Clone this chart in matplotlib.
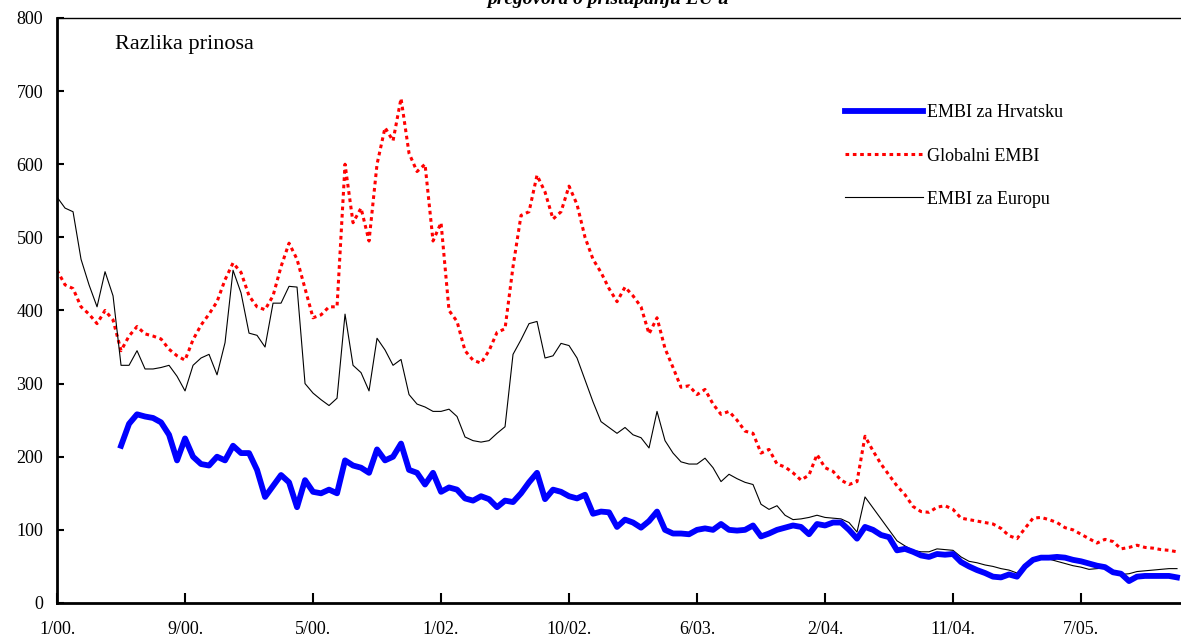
import numpy as np
import matplotlib
matplotlib.use('Agg')
from matplotlib import pyplot as plt

plt.rcParams['font.family'] = ['Liberation Serif', 'DejaVu Serif']

# samples equally spaced in time, 16 samples between labelled ticks
tick_labels = ['1/00.', '9/00.', '5/00.', '1/02.', '10/02.', '6/03.', '2/04.', '11/04.', '7/05.']

embi_europa = [555, 540, 535, 470, 435, 405, 453, 420, 325, 325, 345, 320, 320, 322, 325, 310,
               290, 325, 335, 340, 312, 356, 455, 424, 369, 366, 350, 410, 410, 433, 432, 300,
               287, 278, 270, 280, 395, 325, 315, 290, 362, 346, 325, 333, 285, 272, 268, 262,
               262, 265, 255, 227, 222, 220, 222, 232, 241, 340, 360, 382, 385, 335, 338, 355,
               352, 335, 305, 275, 248, 240, 232, 240, 230, 226, 212, 262, 222, 205, 193, 190,
               190, 198, 185, 166, 176, 170, 165, 162, 135, 128, 133, 120, 114, 115, 117, 120,
               117, 116, 115, 110, 97, 145, 130, 115, 100, 85, 78, 72, 70, 70, 74, 73,
               72, 63, 57, 55, 52, 50, 47, 45, 41, 50, 59, 63, 60, 57, 54, 51,
               49, 46, 47, 48, 42, 39, 40, 43, 44, 45, 46, 47, 47]

embi_global = [455, 435, 430, 405, 395, 382, 400, 387, 345, 365, 378, 368, 365, 361, 347, 338,
               332, 360, 380, 395, 412, 442, 465, 452, 420, 405, 401, 420, 460, 492, 470, 430,
               390, 394, 405, 405, 600, 520, 540, 495, 600, 650, 632, 690, 615, 590, 600, 495,
               520, 400, 385, 345, 332, 328, 345, 370, 375, 460, 530, 535, 585, 562, 525, 535,
               570, 545, 500, 470, 452, 430, 412, 432, 420, 405, 368, 390, 348, 322, 295, 297,
               285, 292, 272, 258, 262, 250, 235, 232, 205, 210, 190, 186, 178, 168, 175, 203,
               185, 180, 168, 162, 166, 228, 208, 190, 175, 160, 148, 132, 125, 124, 131, 133,
               128, 116, 114, 112, 110, 108, 102, 92, 88, 102, 116, 117, 114, 110, 103, 100,
               94, 88, 82, 87, 84, 74, 76, 79, 76, 75, 73, 72, 70]

embi_hrvatska = [np.nan] * 8 + [
               215, 245, 258, 255, 253, 247, 230, 195,
               225, 200, 190, 188, 200, 195, 215, 205, 205, 182, 145, 160, 175, 165, 131, 168,
               152, 150, 155, 150, 195, 188, 185, 178, 210, 195, 200, 218, 182, 178, 162, 178,
               152, 158, 155, 143, 140, 146, 142, 131, 140, 138, 150, 165, 178, 142, 155, 152,
               146, 143, 148, 122, 125, 124, 104, 114, 110, 103, 112, 125, 100, 95, 95, 94,
               100, 102, 100, 108, 100, 99, 100, 106, 91, 95, 100, 103, 106, 104, 94, 108,
               106, 110, 110, 100, 88, 104, 100, 93, 90, 72, 74, 70, 65, 63, 67, 66,
               67, 56, 50, 45, 41, 36, 35, 39, 36, 50, 59, 62, 62, 63, 62, 59,
               57, 54, 51, 49, 42, 40, 30, 36, 37, 37, 37, 37, 35]

x = np.arange(len(embi_europa))

fig = plt.figure(figsize=(11.81, 6.41), dpi=100)
ax = fig.add_axes([0.0483, 0.0593, 0.9517, 0.9127])

ax.plot(x, embi_hrvatska, color='#0000FF', lw=4.2, label='EMBI za Hrvatsku', zorder=3)
ax.plot(x, embi_global, color='#FF0000', lw=2.2, ls=(0, (1.2, 1.2)), label='Globalni EMBI', zorder=2)
ax.plot(x, embi_europa, color='black', lw=0.8, label='EMBI za Europu', zorder=2)

ax.set_xlim(0, 140.5)
ax.set_ylim(0, 800)
ax.set_yticks(range(0, 801, 100))
ax.set_xticks(np.arange(len(tick_labels)) * 16)
ax.set_xticklabels(tick_labels)
ax.tick_params(axis='both', direction='in', labelsize=13, width=1.5)
ax.tick_params(axis='x', length=7, pad=13)
ax.tick_params(axis='y', length=5, pad=10)

for side in ['left', 'bottom']:
    ax.spines[side].set_linewidth(2)
ax.spines['top'].set_linewidth(1)
ax.spines['right'].set_visible(False)

ax.text(0.052, 0.955, 'Razlika prinosa', transform=ax.transAxes, fontsize=16, va='center')

leg = ax.legend(frameon=False, loc='upper left', bbox_to_anchor=(0.687, 0.88),
                fontsize=13, handlelength=4.3, labelspacing=1.45, handletextpad=0.2)

fig.text(0.515, 1.0, 'pregovora o pristupanju EU u', fontsize=14, fontweight='bold',
         fontstyle='italic', ha='center', va='center')

fig.savefig('out.png', dpi=100)
